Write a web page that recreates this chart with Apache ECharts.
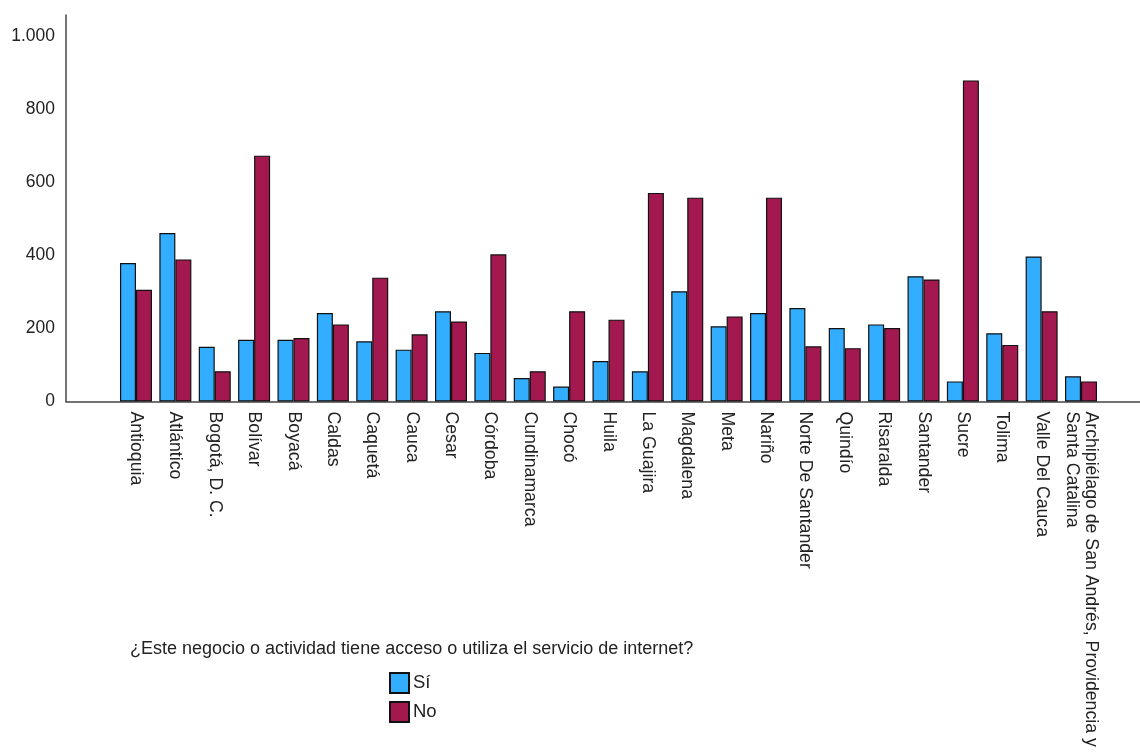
<!DOCTYPE html>
<html>
<head>
<meta charset="utf-8">
<style>html,body{margin:0;padding:0;background:#fff}#c{width:1140px;height:753px}</style>
<script src="https://cdn.jsdelivr.net/npm/echarts@6/dist/echarts.min.js"></script>
</head>
<body>
<div id="c"></div>
<script>
const categories = ['Antioquia','Atlántico','Bogotá, D. C.','Bolívar','Boyacá','Caldas','Caquetá','Cauca','Cesar','Córdoba','Cundinamarca','Chocó','Huila','La Guajira','Magdalena','Meta','Nariño','Norte De Santander','Quindío','Risaralda','Santander','Sucre','Tolima','Valle Del Cauca','Archipiélago de San Andrés, Providencia y\nSanta Catalina'];
const siValues = [379,461,150,169,169,242,165,142,247,133,64,41,111,83,302,206,242,256,201,211,343,55,187,397,69];
const noValues = [306,389,83,673,174,211,339,184,219,403,83,247,224,571,558,233,558,151,146,201,334,879,155,247,55];
const seriesNames = ['Sí','No'];
const legendTitle = '¿Este negocio o actividad tiene acceso o utiliza el servicio de internet?';
const yMin = 0, yMax = 1058, yInterval = 200;

const FONT = "'Liberation Sans', Arial, sans-serif";
const chart = echarts.init(document.getElementById('c'), null, {renderer:'canvas'});
const fmt = v => String(v).replace(/\B(?=(\d{3})+(?!\d))/g, '.');
const border = {borderColor:'#111', borderWidth:1.2};
chart.setOption({
  animation:false,
  backgroundColor:'#fff',
  textStyle:{fontFamily:FONT},
  title:{text:legendTitle, left:130, top:640, padding:0,
    textStyle:{fontFamily:FONT, fontSize:18, fontWeight:'normal', color:'#222'}},
  legend:{data:seriesNames, orient:'vertical', left:389, top:672, padding:0,
    itemWidth:19, itemHeight:20, itemGap:7, icon:'rect', selectedMode:false,
    textStyle:{fontFamily:FONT, fontSize:18.5, color:'#222', padding:[0,0,0,-1]}},
  grid:[
    {left:66, right:0, top:15, bottom:351.5, containLabel:false},
    {left:116.3, width:984.4, top:15, bottom:351.5, containLabel:false}
  ],
  xAxis:[
    {gridIndex:0, type:'value', min:0, max:1, axisLine:{show:true, lineStyle:{color:'#444', width:1.5}},
     axisTick:{show:false}, axisLabel:{show:false}, splitLine:{show:false}},
    {gridIndex:1, type:'category', data:categories, boundaryGap:true,
     axisLine:{show:false}, axisTick:{show:false}, splitLine:{show:false},
     axisLabel:{interval:0, rotate:-90, margin:10, fontFamily:FONT, fontSize:17.7, color:'#222', lineHeight:19}}
  ],
  yAxis:[
    {gridIndex:0, type:'value', min:yMin, max:yMax, interval:yInterval,
     axisLine:{show:true, lineStyle:{color:'#444', width:1.5}}, axisTick:{show:false}, splitLine:{show:false},
     axisLabel:{showMaxLabel:false, margin:11, fontFamily:FONT, fontSize:17.5, color:'#222', formatter:fmt,
       verticalAlign:'middle', lineHeight:18, padding:[7,0,0,0]}},
    {gridIndex:1, type:'value', min:yMin, max:yMax, show:false, splitLine:{show:false}}
  ],
  series:[
    {name:seriesNames[0], type:'bar', xAxisIndex:1, yAxisIndex:1, data:siValues, barWidth:16, barGap:'0%',
     itemStyle:Object.assign({color:'#33adff'}, border)},
    {name:seriesNames[1], type:'bar', xAxisIndex:1, yAxisIndex:1, data:noValues, barWidth:16, barGap:'0%',
     itemStyle:Object.assign({color:'#a3194f'}, border)}
  ]
});
</script>
</body>
</html>
